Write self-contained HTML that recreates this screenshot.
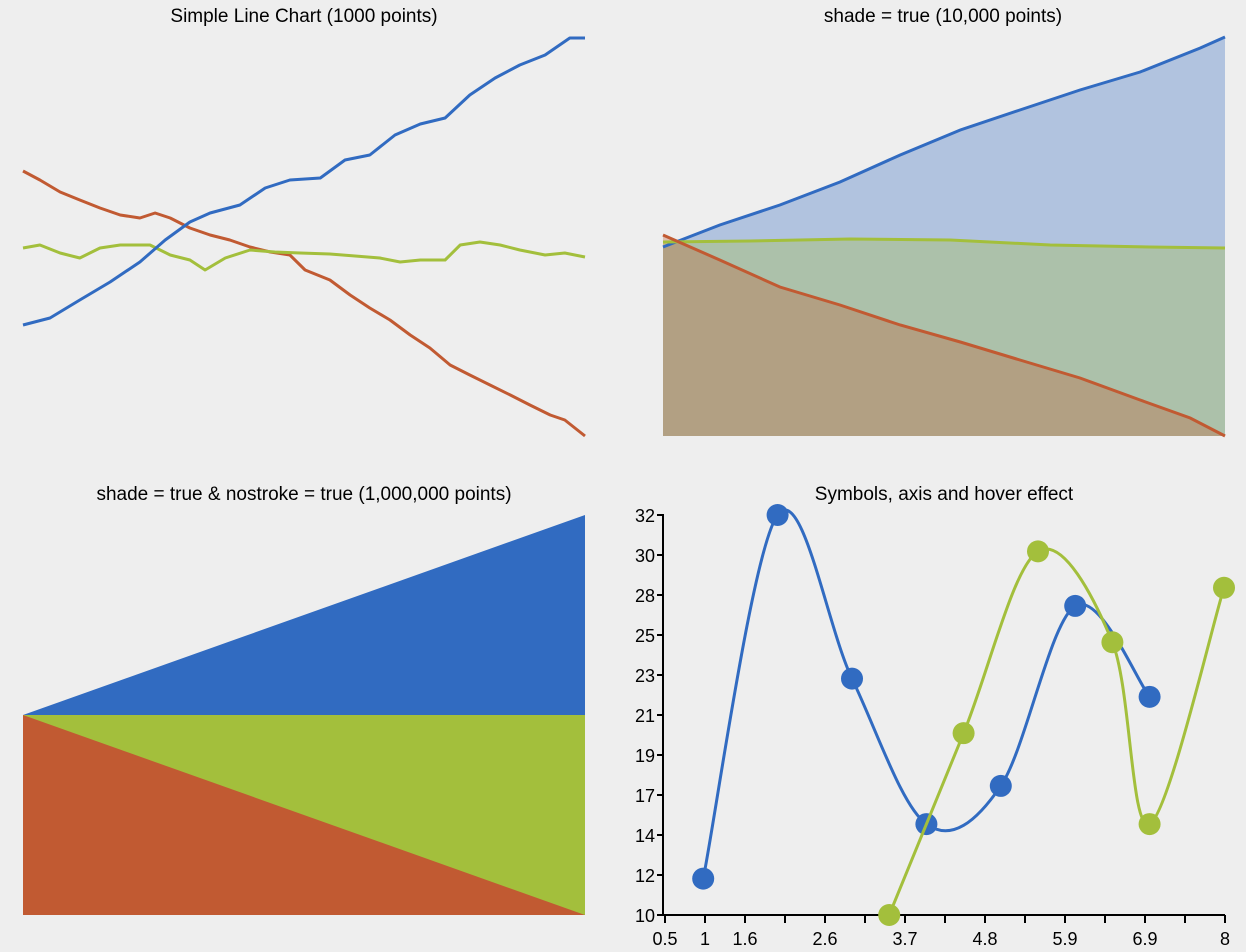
<!DOCTYPE html>
<html><head><meta charset="utf-8"><style>
html,body{margin:0;padding:0;background:#eeeeee;}
svg{display:block;font-family:"Liberation Sans",sans-serif;}
</style></head><body>
<svg id="chart" width="1246" height="952" viewBox="0 0 1246 952">
<rect width="1246" height="952" fill="#eeeeee"/>
<text x="304" y="22" font-size="19" text-anchor="middle">Simple Line Chart (1000 points)</text>
<text x="943" y="22" font-size="19" text-anchor="middle">shade = true (10,000 points)</text>
<text x="304" y="500" font-size="19" text-anchor="middle">shade = true &amp; nostroke = true (1,000,000 points)</text>
<text x="944" y="500" font-size="19" text-anchor="middle">Symbols, axis and hover effect</text>
<g id="g1"></g><g id="g2"></g><g id="g3"></g><g id="g4"></g>
</svg>
<script>
// Chart 1 data (values 0..400 scale, x as fraction 0..1)
const c1X = [0,0.048,0.101,0.155,0.208,0.253,0.297,0.333,0.386,0.431,0.475,0.529,0.573,0.617,0.662,0.707,0.751,0.795,0.840,0.884,0.929,0.973,1];
const c1Blue = [111,118,136,154,174,196,214,223,231,248,256,258,276,281,301,312,318,341,358,371,381,398,398];
const c1RedX = [0,0.030,0.066,0.101,0.137,0.173,0.208,0.235,0.262,0.297,0.333,0.368,0.404,0.440,0.475,0.502,0.546,0.582,0.617,0.653,0.689,0.724,0.760,0.795,0.831,0.867,0.902,0.938,0.964,1];
const c1Red = [265,256,244,236,228,221,218,223,218,208,201,196,189,184,181,166,156,141,128,116,101,88,71,61,51,41,31,21,16,0];
const c1GreenX = [0,0.030,0.066,0.101,0.137,0.173,0.226,0.262,0.297,0.324,0.360,0.404,0.448,0.493,0.546,0.591,0.635,0.671,0.707,0.751,0.778,0.813,0.849,0.884,0.929,0.964,1];
const c1Green = [188,191,183,178,188,191,191,181,176,166,178,186,184,183,182,180,178,174,176,176,191,194,191,186,181,183,179];
// Chart 2 data
const c2X = [0,0.101,0.208,0.315,0.422,0.529,0.635,0.742,0.849,0.956,1];
const c2Blue = [189,211,231,254,281,306,326,346,364,388,399];
const c2GreenX = [0,0.155,0.333,0.511,0.689,0.866,1];
const c2Green = [194,195,197,196,191,189,188];
const c2RedX = [0,0.101,0.208,0.315,0.422,0.529,0.635,0.742,0.849,0.938,1];
const c2Red = [201,176,149,131,111,94,76,58,36,18,0];
// Chart 3 data (start, end)
const c3X = [0,1];
const c3Blue = [0,1];
const c3Green = [0,0];
const c3Red = [0,-1];
// Chart 4 data
const c4BlueX = [1,2,3,4,5,6,7];
const c4Blue = [12,32,23,15,17.1,27,22];
const c4GreenX = [3.5,4.5,5.5,6.5,7,8];
const c4Green = [10,20,30,25,15,28];
const xTickLabels = ["0.5","1","1.6","","2.6","","3.7","","4.8","","5.9","","6.9","","8"];
const yTickLabels = ["10","12","14","17","19","21","23","25","28","30","32"];

const BLUE="#316bc1", RED="#c15a32", GREEN="#a3bf3c";
const NS="http://www.w3.org/2000/svg";
function mk(tag,attrs,parent){const e=document.createElementNS(NS,tag);for(const k in attrs)e.setAttribute(k,attrs[k]);parent.appendChild(e);return e;}
function lin(d0,d1,r0,r1){return v=>r0+(v-d0)/(d1-d0)*(r1-r0);}

// Chart 1
{
 const g=document.getElementById('g1');
 const sx=lin(0,1,23,585), sy=lin(0,400,436,36);
 const series=[[c1RedX,c1Red,RED,'line-red'],[c1GreenX,c1Green,GREEN,'line-green'],[c1X,c1Blue,BLUE,'line-blue']];
 series.forEach(s=>{
  const d=s[0].map((x,i)=>(i?'L':'M')+sx(x).toFixed(1)+','+sy(s[1][i]).toFixed(1)).join('');
  const p=mk('path',{d:d,fill:'none',stroke:s[2],'stroke-width':3,'stroke-linejoin':'round'},g);
  
  
 });
}
// Chart 2
{
 const g=document.getElementById('g2');
 const sx=lin(0,1,663,1225), sy=lin(0,400,436,36);
 const series=[[c2X,c2Blue,BLUE,'shade-blue'],[c2GreenX,c2Green,GREEN,'shade-green'],[c2RedX,c2Red,RED,'shade-red']];
 series.forEach(s=>{
  const pts=s[0].map((x,i)=>sx(x).toFixed(1)+','+sy(s[1][i]).toFixed(1));
  const a=mk('path',{d:'M'+sx(0)+','+sy(0)+'L'+pts.join('L')+'L'+sx(1)+','+sy(0)+'Z',fill:s[2],'fill-opacity':0.32},g);
  
  
 });
 series.forEach(s=>{
  const pts=s[0].map((x,i)=>sx(x).toFixed(1)+','+sy(s[1][i]).toFixed(1));
  const l=mk('path',{d:'M'+pts.join('L'),fill:'none',stroke:s[2],'stroke-width':3},g);
  
  
 });
}
// Chart 3
{
 const g=document.getElementById('g3');
 const sx=lin(0,1,23,585), sy=lin(-1,1,915,515);
 [[c3Blue,BLUE,'area-blue'],[c3Green,GREEN,'area-green'],[c3Red,RED,'area-red']].forEach(s=>{
  const d='M'+sx(c3X[0])+','+sy(-1)+'L'+c3X.map((x,i)=>sx(x)+','+sy(s[0][i])).join('L')+'L'+sx(c3X[1])+','+sy(-1)+'Z';
  const p=mk('path',{d:d,fill:s[1]},g);
  
  
 });
}
// Chart 4
{
 const g=document.getElementById('g4');
 const sx=lin(0.5,8,666,1224), sy=lin(10,32,915,515);
 // axes
 const ax=mk('path',{d:'M663,915H1225M663,515V915',stroke:'#000','stroke-width':2,fill:'none'},g);
 
 
 xTickLabels.forEach((t,i)=>{
  const x=665+i*40;
  const tk=mk('line',{x1:x,x2:x,y1:915,y2:923,stroke:'#000','stroke-width':2},g);
  
  
  if(t){const tx=mk('text',{x:x,y:945,'font-size':18,'text-anchor':'middle'},g);tx.textContent=t;
   
   }
 });
 yTickLabels.forEach((t,i)=>{
  const y=915-i*40;
  const tk=mk('line',{x1:657,x2:664,y1:y,y2:y,stroke:'#000','stroke-width':2},g);
  
  
  const tx=mk('text',{x:655,y:y+7,'font-size':18,'text-anchor':'end'},g);tx.textContent=t;
  
  
 });
 function spline(P){
  let d='M'+P[0][0]+','+P[0][1];
  for(let i=0;i<P.length-1;i++){
   const p0=P[i-1]||P[i],p1=P[i],p2=P[i+1],p3=P[i+2]||P[i+1];
   const c1=[p1[0]+(p2[0]-p0[0])/6,p1[1]+(p2[1]-p0[1])/6];
   const c2=[p2[0]-(p3[0]-p1[0])/6,p2[1]-(p3[1]-p1[1])/6];
   d+='C'+c1.join(',')+' '+c2.join(',')+' '+p2.join(',');
  }
  return d;
 }
 [[c4BlueX,c4Blue,BLUE,'blue'],[c4GreenX,c4Green,GREEN,'green']].forEach(s=>{
  const P=s[0].map((x,i)=>[sx(x),sy(s[1][i])]);
  const l=mk('path',{d:spline(P),fill:'none',stroke:s[2],'stroke-width':3},g);
  
  
  P.forEach(p=>{
   const c=mk('circle',{cx:p[0],cy:p[1],r:11,fill:s[2]},g);
   
   
  });
 });
}
</script>
</body></html>
